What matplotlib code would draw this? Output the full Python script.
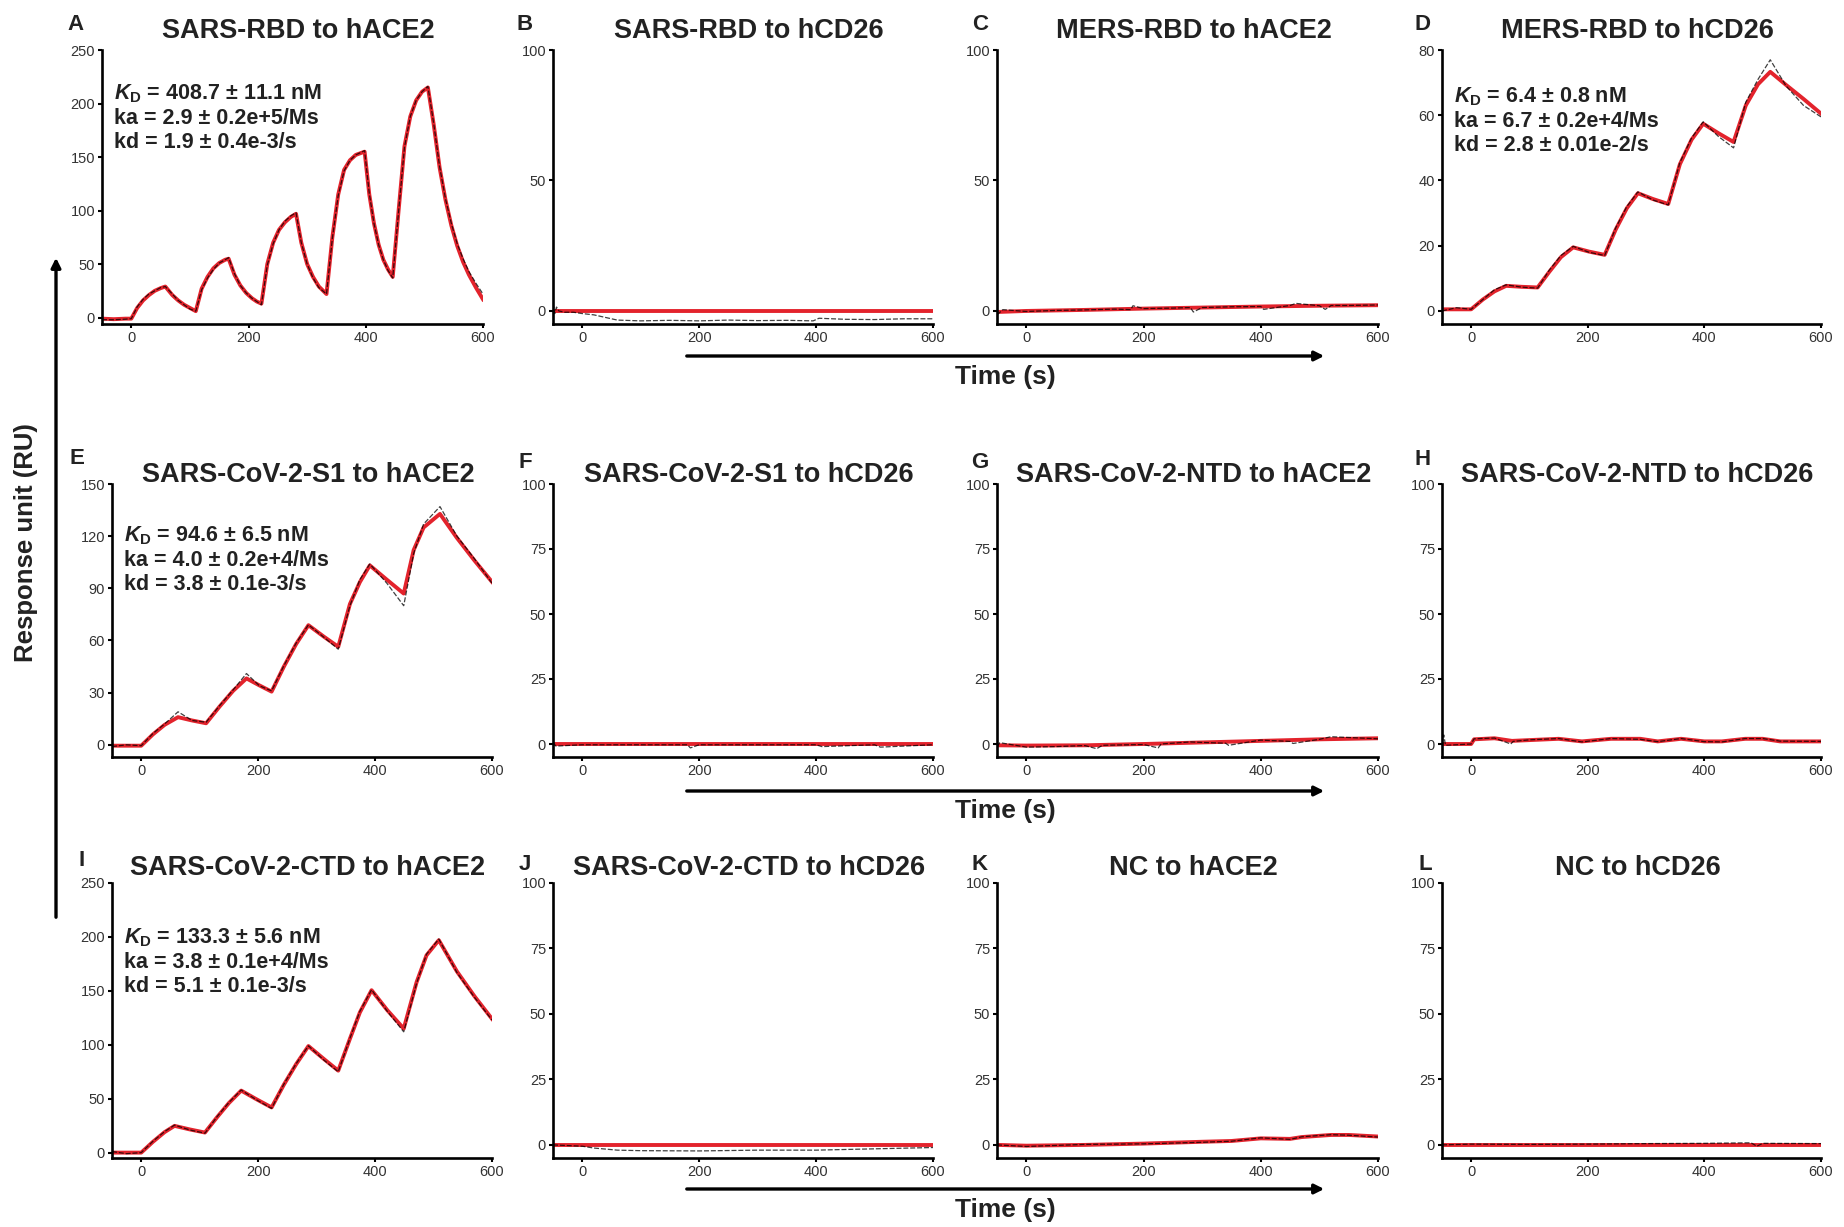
import matplotlib
matplotlib.use("Agg")
import matplotlib.pyplot as plt
from matplotlib.patches import FancyArrowPatch

plt.rcParams['font.family'] = 'Liberation Sans'
plt.rcParams['mathtext.fontset'] = 'custom'
plt.rcParams['mathtext.rm'] = 'Liberation Sans:bold'
plt.rcParams['mathtext.it'] = 'Liberation Sans:italic:bold'
plt.rcParams['mathtext.bf'] = 'Liberation Sans:bold'

# --- data (time in s, response in RU) ---
# A  SARS-RBD to hACE2
t_A = [-50, -30, -10, 0, 10, 20, 30, 40, 50, 58, 70, 80, 90, 100, 110, 120, 130, 140, 150, 160, 166,
       176, 186, 196, 206, 214, 222, 232, 242, 252, 262, 272, 281, 290, 300, 310, 320, 333, 343, 353,
       363, 373, 383, 398, 406, 414, 422, 430, 438, 446, 456, 466, 476, 486, 496, 506, 516, 526, 536,
       546, 556, 566, 576, 588, 600]
fit_A = [-1, -1.5, -1, -1, 9, 16, 21, 25, 27.5, 29, 21, 16, 12, 9, 6, 27, 38, 46, 51, 54, 55,
         40, 30, 23, 18, 15, 13, 50, 70, 82, 89, 94, 97, 70, 50, 38, 29, 22, 75, 115,
         138, 147, 152, 155, 115, 88, 68, 54, 45, 38, 100, 160, 188, 203, 211, 215, 180, 140, 110,
         86, 67, 52, 40, 28, 17]
obs_A = [-2, -2, -1.5, -1, 10, 17, 22, 25, 28, 29, 22, 16, 12, 8, 6, 26, 37, 45, 51, 54, 56,
         41, 30, 23, 18, 15, 12, 49, 69, 82, 90, 95, 98, 70, 50, 37, 28, 22, 74, 114,
         137, 147, 152, 156, 116, 88, 68, 54, 44, 37, 99, 159, 188, 203, 211, 216, 181, 141, 111,
         88, 69, 55, 43, 32, 22]

# B  SARS-RBD to hCD26
t_B = [-50, 600]
fit_B = [0, 0]
t_B_obs = [-50, -47, -44, -40, -30, -15, 0, 20, 40, 60, 100, 150, 200, 250, 300, 350, 395, 405, 450, 500, 550, 600]
obs_B = [3, -1, 1.5, 0, -0.5, -0.5, -1, -1.5, -2.5, -3.5, -3.8, -3.6, -3.8, -3.5, -3.7, -3.6, -3.8, -2.8, -3.2, -3.3, -3.0, -3.0]

# C  MERS-RBD to hACE2
t_C = [-50, 0, 100, 200, 300, 400, 500, 600]
fit_C = [-0.4, 0, 0.4, 0.9, 1.3, 1.7, 2.0, 2.2]
t_C_obs = [-50, -40, 0, 50, 100, 150, 178, 182, 200, 250, 280, 285, 300, 350, 400, 405, 450, 460, 500, 510, 520, 550, 600]
obs_C = [-1.5, 0.5, -0.2, 0.2, 0.4, 0.7, 0.5, 2.0, 0.9, 1.1, 1.3, -0.4, 1.3, 1.6, 1.7, 0.6, 2.1, 2.9, 2.0, 0.6, 2.1, 2.1, 2.3]

# D  MERS-RBD to hCD26
t_D = [-50, -25, 0, 20, 40, 60, 87, 114, 134, 154, 175, 202, 229, 248, 267, 286, 312, 338, 358, 378,
       398, 424, 450, 471, 492, 513, 540, 570, 600]
fit_D = [0.5, 0.5, 0.5, 3.5, 6, 7.7, 7.4, 7.2, 12, 16.5, 19.5, 18.2, 17.2, 25, 31.5, 36.1, 34.3, 32.8, 45, 52.5,
         57.4, 54.5, 51.8, 63, 69.5, 73.3, 69.3, 65, 60.5]
obs_D = [0, 1, 0.5, 3.5, 6.5, 8, 7.3, 7, 12.5, 17, 19.8, 18, 17, 25.5, 32, 36.5, 34, 32.5, 45.5, 53,
         58, 53.5, 50, 64, 71, 77, 69, 63, 59.5]

# E  SARS-CoV-2-S1 to hACE2
t_E = [-50, -25, 0, 20, 40, 63, 87, 111, 134, 157, 180, 202, 223, 244, 265, 286, 312, 337, 357, 374,
       391, 420, 449, 466, 483, 511, 540, 570, 600]
fit_E = [-0.5, -0.5, -0.5, 6, 11.5, 15.9, 14, 12.4, 22, 31, 38.2, 34.2, 30.6, 45, 58, 68.8, 62.3, 56.4, 81, 93.6,
         103.2, 95, 87, 112, 125, 132.8, 119, 106, 93.7]
obs_E = [-1, 0, -0.5, 6.5, 12, 19, 14, 13, 22.5, 31.5, 41, 34, 31, 45.5, 58.5, 69, 62, 55, 80, 95,
         104, 93, 80, 110, 127, 137, 120, 107, 93]

# F  SARS-CoV-2-S1 to hCD26
t_F = [-50, 600]
fit_F = [0, 0]
t_F_obs = [-50, -45, 0, 100, 180, 185, 200, 300, 400, 410, 500, 510, 600]
obs_F = [0.5, -0.8, -0.3, -0.3, -0.3, -1.5, -0.3, -0.3, -0.3, -1.0, -0.3, -1.2, -0.3]

# G  SARS-CoV-2-NTD to hACE2
t_G = [-50, 0, 100, 200, 300, 400, 500, 600]
fit_G = [-0.5, -0.6, -0.5, 0, 0.6, 1.2, 1.8, 2.2]
t_G_obs = [-50, -45, 0, 50, 100, 120, 130, 200, 225, 230, 280, 300, 340, 345, 400, 450, 455, 500, 520, 600]
obs_G = [-1, 0.5, -1.2, -1.0, -0.6, -1.8, -0.5, -0.2, -1.5, 0, 0.8, 0.6, 0.3, -0.5, 1.5, 1.0, 0.2, 1.8, 2.8, 2.0]

# H  SARS-CoV-2-NTD to hCD26
t_H = [-50, 0, 5, 40, 70, 100, 150, 190, 240, 290, 320, 360, 400, 430, 470, 500, 530, 600]
fit_H = [0, 0, 1.8, 2.2, 1.2, 1.5, 2.0, 1.0, 2.0, 2.0, 1.0, 2.0, 1.0, 1.0, 2.0, 2.0, 1.0, 1.0]
t_H_obs = [-50, -47, -44, 0, 5, 40, 68, 72, 100, 150, 190, 240, 290, 320, 360, 400, 430, 470, 500, 530, 600]
obs_H = [0, 3.5, -0.5, 0, 2, 2.3, 0, 1.0, 1.6, 2.1, 0.8, 2.1, 1.8, 0.9, 2.1, 0.9, 0.8, 2.1, 2.1, 1.1, 1.0]

# I  SARS-CoV-2-CTD to hACE2
t_I = [-50, -25, 0, 20, 40, 57, 83, 109, 130, 150, 171, 197, 223, 244, 265, 286, 312, 337, 357, 374,
       394, 421, 449, 471, 488, 509, 540, 570, 600]
fit_I = [0, 0, 0, 10, 19, 24.8, 21.5, 18.6, 33, 46, 57.5, 49.5, 41.9, 63, 82, 98.8, 87, 76, 105.6, 130,
         150.6, 132, 115, 158, 183, 197, 168, 145, 124]
obs_I = [1, -1, 0, 10.5, 19.5, 25.5, 21, 18, 33.5, 46.5, 58, 49, 41, 63.5, 82.5, 99, 86, 75, 106, 131,
         151, 131, 112, 157, 184, 198, 167, 144, 123]

# J  SARS-CoV-2-CTD to hCD26
t_J = [-50, 600]
fit_J = [0, 0]
t_J_obs = [-50, 0, 20, 60, 100, 200, 300, 400, 500, 600]
obs_J = [0, -0.5, -1.2, -2.0, -2.2, -2.3, -2.0, -2.0, -1.5, -1.0]

# K  NC to hACE2
t_K = [-50, 0, 100, 200, 300, 350, 400, 450, 470, 520, 550, 600]
fit_K = [0, -0.3, 0, 0.5, 1.2, 1.5, 2.5, 2.3, 3.0, 3.8, 3.8, 3.2]
obs_K = [0, -0.6, 0.2, 0.4, 1.0, 1.4, 2.7, 2.1, 3.1, 3.9, 3.7, 3.0]

# L  NC to hCD26
t_L = [-50, 600]
fit_L = [0, 0]
t_L_obs = [-50, 0, 100, 200, 300, 400, 480, 490, 500, 600]
obs_L = [0, 0.3, 0.2, 0.3, 0.5, 0.6, 0.8, -0.5, 0.6, 0.5]

titles = ['SARS-RBD to hACE2', 'SARS-RBD to hCD26', 'MERS-RBD to hACE2', 'MERS-RBD to hCD26',
          'SARS-CoV-2-S1 to hACE2', 'SARS-CoV-2-S1 to hCD26', 'SARS-CoV-2-NTD to hACE2', 'SARS-CoV-2-NTD to hCD26',
          'SARS-CoV-2-CTD to hACE2', 'SARS-CoV-2-CTD to hCD26', 'NC to hACE2', 'NC to hCD26']
letters = list('ABCDEFGHIJKL')
kinetics = {
    'A': ['408.7 ± 11.1 nM', '2.9 ± 0.2e+5/Ms', '1.9 ± 0.4e-3/s'],
    'D': ['6.4 ± 0.8 nM', '6.7 ± 0.2e+4/Ms', '2.8 ± 0.01e-2/s'],
    'E': ['94.6 ± 6.5 nM', '4.0 ± 0.2e+4/Ms', '3.8 ± 0.1e-3/s'],
    'I': ['133.3 ± 5.6 nM', '3.8 ± 0.1e+4/Ms', '5.1 ± 0.1e-3/s'],
}

curves = {
    'A': (t_A, fit_A, t_A, obs_A), 'B': (t_B, fit_B, t_B_obs, obs_B),
    'C': (t_C, fit_C, t_C_obs, obs_C), 'D': (t_D, fit_D, t_D, obs_D),
    'E': (t_E, fit_E, t_E, obs_E), 'F': (t_F, fit_F, t_F_obs, obs_F),
    'G': (t_G, fit_G, t_G_obs, obs_G), 'H': (t_H, fit_H, t_H_obs, obs_H),
    'I': (t_I, fit_I, t_I, obs_I), 'J': (t_J, fit_J, t_J_obs, obs_J),
    'K': (t_K, fit_K, t_K, obs_K), 'L': (t_L, fit_L, t_L_obs, obs_L),
}

# y ranges per panel
ylims = {'A': (-6, 250, 50), 'B': (-5, 100, 50), 'C': (-5, 100, 50), 'D': (-4, 80, 20),
         'E': (-7, 150, 30), 'F': (-5, 100, 25), 'G': (-5, 100, 25), 'H': (-5, 100, 25),
         'I': (-5, 250, 50), 'J': (-5, 100, 25), 'K': (-5, 100, 25), 'L': (-5, 100, 25)}

# --- layout in pixels ---
W, H = 1844, 1227
fig = plt.figure(figsize=(W / 100, H / 100), dpi=100)

cols = [[(102, 483), (553, 933), (997, 1378), (1442, 1821)],
        [(112, 492), (553, 933), (997, 1378), (1442, 1821)],
        [(112, 492), (553, 933), (997, 1378), (1442, 1821)]]
rows = [(50, 324), (484, 757), (883, 1158)]
title_y = [31, 475, 868]
letter_pos = [(75, 25), (525, 25), (980, 25), (1422, 25),
              (77, 458), (525, 462), (980, 462), (1423, 460),
              (82, 860), (525, 865), (980, 865), (1425, 865)]
annot_top = {'A': 82, 'D': 85, 'E': 524, 'I': 926}

red = '#e3232c'

for i, L in enumerate(letters):
    r, c = divmod(i, 4)
    (x0, x1), (y0, y1) = cols[r][c], rows[r]
    ax = fig.add_axes([x0 / W, 1 - y1 / H, (x1 - x0) / W, (y1 - y0) / H])
    tf, yf, to, yo = curves[L]
    ax.plot(tf, yf, color=red, lw=2.8, solid_joinstyle='round', zorder=2)
    ax.plot(to, yo, color='black', lw=0.9, alpha=0.75, ls=(0, (4, 1.5)), zorder=3)
    lo, hi, step = ylims[L]
    ax.set_xlim(-50, 600)
    ax.set_ylim(lo, hi)
    ax.set_xticks([0, 200, 400, 600])
    ax.set_yticks(list(range(0, hi + 1, step)))
    for s in ['top', 'right']:
        ax.spines[s].set_visible(False)
    for s in ['left', 'bottom']:
        ax.spines[s].set_linewidth(1.9)
    ax.tick_params(direction='out', length=3, width=1.5, labelsize=10.5, labelcolor='#333333', pad=2)
    ax.patch.set_alpha(0)

    xc = (x0 + x1) / 2 + 6
    fig.text(xc / W, 1 - title_y[r] / H, titles[i], ha='center', va='center',
             fontsize=19.5, fontweight='bold', color='#222222')
    lx, ly = letter_pos[i]
    fig.text(lx / W, 1 - ly / H, L, ha='center', va='center', fontsize=16, fontweight='bold', color='#222222')

    if L in kinetics:
        kd_, ka_, koff = kinetics[L]
        txt = '$K_\\mathrm{D}$ = ' + kd_ + '\nka = ' + ka_ + '\nkd = ' + koff
        fig.text((x0 + 12) / W, 1 - annot_top[L] / H, txt, ha='left', va='top', fontsize=15.5,
                 fontweight='bold', color='#222222', linespacing=1.2)

# shared axis labels with arrows
for ay, ty in [(356, 377), (791, 811), (1189, 1210)]:
    fig.add_artist(FancyArrowPatch((684 / W, 1 - ay / H), (1327 / W, 1 - ay / H), transform=fig.transFigure,
                                   arrowstyle='-|>', mutation_scale=14, lw=2.4, color='black'))
    fig.text(1005 / W, 1 - ty / H, 'Time (s)', ha='center', va='center', fontsize=19, fontweight='bold',
             color='#222222')

fig.add_artist(FancyArrowPatch((56 / W, 1 - 920 / H), (56 / W, 1 - 255 / H), transform=fig.transFigure,
                               arrowstyle='-|>', mutation_scale=14, lw=2.4, color='black'))
fig.text(26 / W, 1 - 543 / H, 'Response unit (RU)', rotation=90, ha='center', va='center', fontsize=18.5,
         fontweight='bold', color='#222222')

fig.savefig('out.png', dpi=100)
